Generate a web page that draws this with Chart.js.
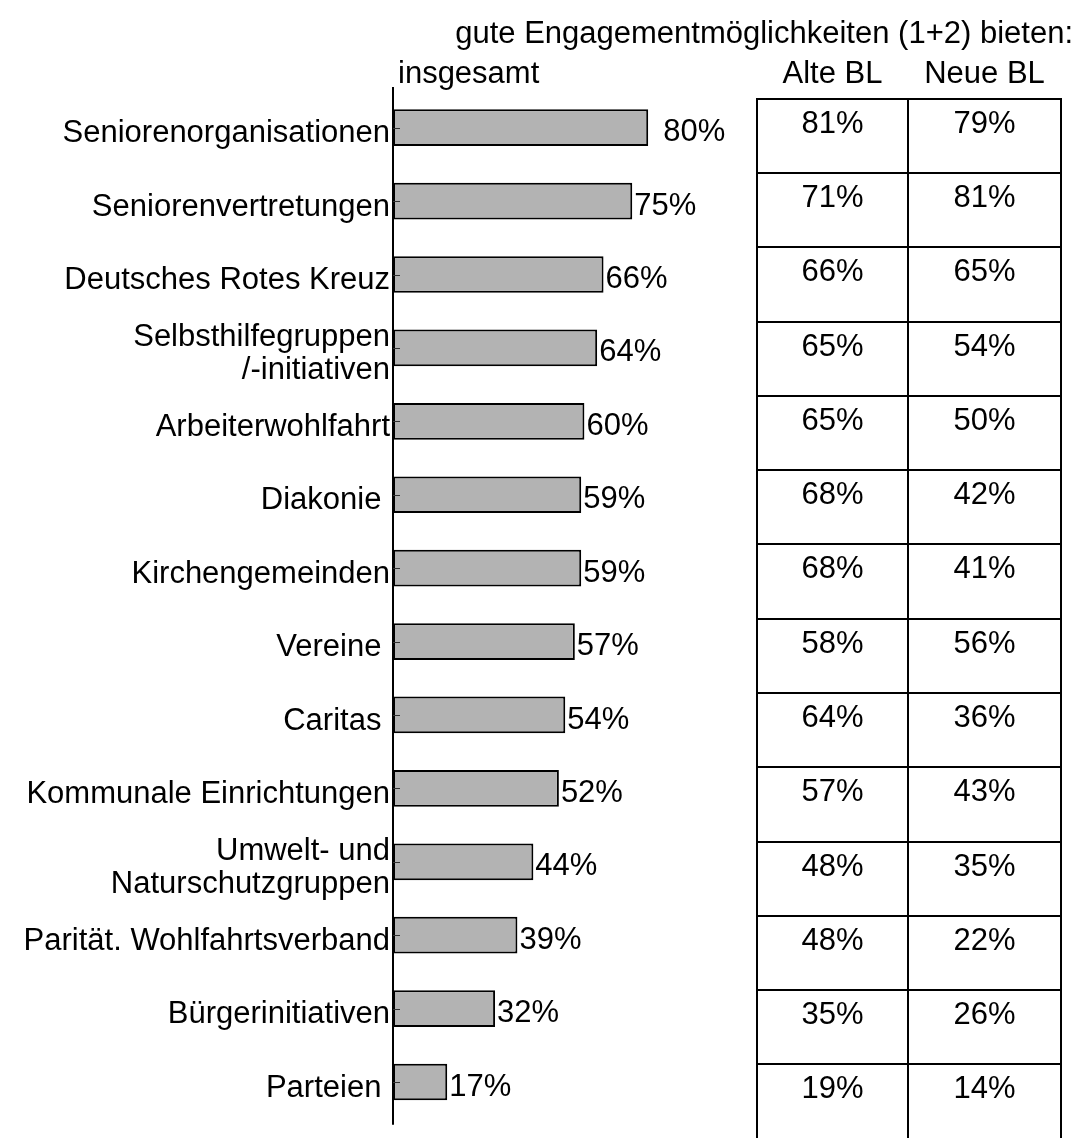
<!DOCTYPE html>
<html>
<head>
<meta charset="utf-8">
<script src="https://cdn.jsdelivr.net/npm/chart.js@4/dist/chart.umd.min.js"></script>
<style>
  body{margin:0;background:#fff;}
  #wrap{width:1077px;height:1138px;position:relative;}
</style>
</head>
<body>
<div id="wrap"><canvas id="chart"></canvas></div>
<script>
const categories=[
  "Seniorenorganisationen","Seniorenvertretungen","Deutsches Rotes Kreuz",
  ["Selbsthilfegruppen","/-initiativen"],"Arbeiterwohlfahrt","Diakonie ",
  "Kirchengemeinden","Vereine ","Caritas ","Kommunale Einrichtungen",
  ["Umwelt- und","Naturschutzgruppen"],"Parität. Wohlfahrtsverband",
  "Bürgerinitiativen","Parteien "
];
const insgesamt=[80,75,66,64,60,59,59,57,54,52,44,39,32,17];
const alteBL=[81,71,66,65,65,68,68,58,64,57,48,48,35,19];
const neueBL=[79,81,65,54,50,42,41,56,36,43,35,22,26,14];
const headerMain="gute Engagementmöglichkeiten (1+2) bieten:";
const headerBar="insgesamt";
const tableHeads=["Alte BL","Neue BL"];

const FONT="'Liberation Sans', Arial, sans-serif";

const extras={
  id:"extras",
  afterDatasetsDraw(chart){
    const ctx=chart.ctx, y=chart.scales.y, area=chart.chartArea;
    ctx.save();
    // axis line
    ctx.strokeStyle="#000"; ctx.lineWidth=2;
    ctx.beginPath(); ctx.moveTo(area.left,area.top-4); ctx.lineTo(area.left,area.bottom+6); ctx.stroke();
    // small ticks inside the bars
    ctx.strokeStyle="#333"; ctx.lineWidth=1;
    y.ticks.forEach((t,i)=>{
      const py=Math.round(y.getPixelForTick(i))+0.5;
      ctx.beginPath(); ctx.moveTo(area.left,py); ctx.lineTo(area.left+7,py); ctx.stroke();
    });
    // value labels
    ctx.fillStyle="#000"; ctx.font="31px "+FONT; ctx.textBaseline="middle"; ctx.textAlign="left";
    chart.getDatasetMeta(0).data.forEach((bar,i)=>{
      const gap=i===0?15:2;
      ctx.fillText(insgesamt[i]+"%",bar.x+gap,bar.y+5);
    });
    // headers
    ctx.textAlign="right";
    ctx.fillText(headerMain,1073,34);
    ctx.textAlign="left";
    ctx.fillText(headerBar,398,74);
    // table
    const cols=[757,908,1061];
    const n=categories.length;
    const y0=y.getPixelForValue(0);
    const step=(y.getPixelForValue(n-1)-y0)/(n-1)*1.012;
    const top=y0-29;
    ctx.textAlign="center";
    tableHeads.forEach((h,j)=>ctx.fillText(h,(cols[j]+cols[j+1])/2,74));
    ctx.strokeStyle="#000"; ctx.lineWidth=2;
    cols.forEach(cx=>{ctx.beginPath(); ctx.moveTo(cx,top); ctx.lineTo(cx,chart.height); ctx.stroke();});
    for(let i=0;i<n;i++){
      const ry=Math.round(top+i*step);
      ctx.beginPath(); ctx.moveTo(cols[0]-1,ry); ctx.lineTo(cols[2]+1,ry); ctx.stroke();
      [alteBL,neueBL].forEach((arr,j)=>{
        ctx.fillText(arr[i]+"%",(cols[j]+cols[j+1])/2,ry+25);
      });
    }
    ctx.restore();
  }
};

new Chart(document.getElementById("chart"),{
  type:"bar",
  data:{labels:categories,datasets:[{
    data:insgesamt,
    backgroundColor:"#b3b3b3",
    borderColor:"#000",
    borderWidth:2,
    borderSkipped:false,
    barPercentage:0.5,
    categoryPercentage:1
  }]},
  options:{
    indexAxis:"y",
    responsive:true,
    maintainAspectRatio:false,
    animation:false,
    layout:{padding:{left:0,top:91,right:365,bottom:16}},
    plugins:{legend:{display:false},tooltip:{enabled:false}},
    scales:{
      x:{display:false,min:0,max:100},
      y:{
        grid:{display:false,drawTicks:false},
        border:{display:false},
        ticks:{color:"#000",padding:3,labelOffset:6,font:{size:31,family:FONT,lineHeight:1.05}},
        afterFit(scale){scale.width=393;}
      }
    }
  },
  plugins:[extras]
});
</script>
</body>
</html>
